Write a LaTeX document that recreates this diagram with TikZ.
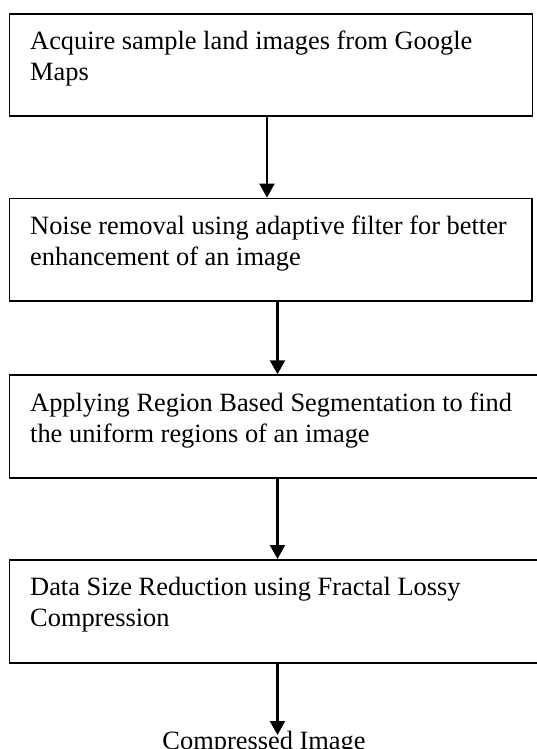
\documentclass[tikz,border=0pt]{standalone}
\usepackage{fontspec}
\setmainfont{Liberation Serif}
\usetikzlibrary{arrows.meta}
\begin{document}
\begin{tikzpicture}[x=1pt,y=-1pt,
  boxstyle/.style={draw=black,line width=1.6pt,rectangle,inner sep=0pt},
  txt/.style={inner sep=0pt,align=left,anchor=base west,font=\fontsize{26.4pt}{31pt}\selectfont},
  arr/.style={line width=2.1pt,-{Triangle[length=14pt,width=15pt]}}]
\useasboundingbox (0,0) rectangle (537,749);
\clip (0,0) rectangle (537,749);
\fill[white] (0,0) rectangle (537,749);
% boxes
\node[boxstyle,minimum width=523pt,minimum height=102.5pt,anchor=north west] (box1) at (8.5,13) {};
\node[boxstyle,minimum width=522.5pt,minimum height=102.7pt,anchor=north west] (box2) at (8.5,197.6) {};
\node[boxstyle,minimum width=540pt,minimum height=102.7pt,anchor=north west] (box3) at (8.5,374.3) {};
\node[boxstyle,minimum width=540pt,minimum height=103pt,anchor=north west] (box4) at (8.5,559) {};
% texts (anchor = baseline of the last line)
\node[txt] (t1) at (30,80.8) {Acquire sample land images from Google\\Maps};
\node[txt] (t2) at (30,265.6) {Noise removal using adaptive filter for better\\enhancement of an image};
\node[txt] (t3) at (30,442.3) {Applying Region Based Segmentation to find\\the uniform regions of an image};
\node[txt] (t4) at (30,626.5) {Data Size Reduction using Fractal Lossy\\Compression};
\node[inner sep=0pt,anchor=base,font=\fontsize{26.4pt}{31pt}\selectfont] (out) at (264,749.5) {Compressed Image};
% connectors
\coordinate (c1) at (267,0);
\coordinate (c2) at (277.5,0);
\coordinate (end) at (277.5,735);
\draw[arr] (box1.south -| c1) -- (box2.north -| c1);
\draw[arr] (box2.south -| c2) -- (box3.north -| c2);
\draw[arr] (box3.south -| c2) -- (box4.north -| c2);
\draw[arr] (box4.south -| c2) -- (end);
\end{tikzpicture}
\end{document}
